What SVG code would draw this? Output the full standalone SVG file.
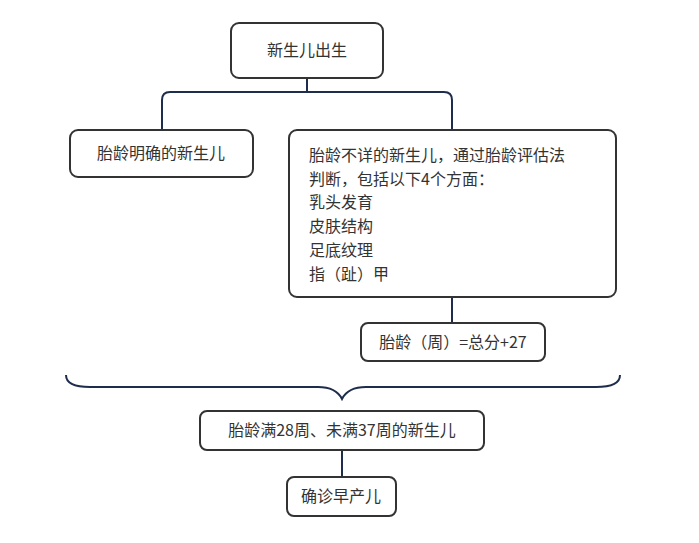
<svg xmlns="http://www.w3.org/2000/svg" width="699" height="543" viewBox="0 0 699 543">
<style>
.b{fill:#fff;stroke:#333;stroke-width:2}
.c{fill:none;stroke:#1f2d4d;stroke-width:2}
text{font-family:"Noto Sans CJK SC","Liberation Sans",sans-serif;font-size:16px;fill:#333}
.m{text-anchor:middle}
</style>
<rect width="699" height="543" fill="#fff"/>
<g id="connectors">
<path class="c" d="M307 78V92M162 130V100Q162 92 170 92H444Q452 92 452 100V130"/>
<path class="c" d="M452 297V323"/>
<path class="c" d="M342 450V477"/>
<path class="c" d="M66 375Q66 387 90 387H318Q336 387 342 399Q348 387 366 387H596Q620 387 620 375"/>
</g>
<g id="n1"><rect class="b" x="231" y="23" width="152" height="55" rx="8"/><text class="m" x="307" y="56">新生儿出生</text></g>
<g id="n2"><rect class="b" x="70" y="130" width="183" height="47" rx="8"/><text class="m" x="161" y="159">胎龄明确的新生儿</text></g>
<g id="n3"><rect class="b" x="289" y="130" width="327" height="167" rx="8"/>
<text x="309" y="161">胎龄不详的新生儿，通过胎龄评估法</text>
<text x="309" y="185">判断，包括以下4个方面：</text>
<text x="309" y="208">乳头发育</text>
<text x="309" y="232">皮肤结构</text>
<text x="309" y="256">足底纹理</text>
<text x="309" y="280">指（趾）甲</text></g>
<g id="n4"><rect class="b" x="361" y="323" width="184" height="38" rx="7"/><text class="m" x="453" y="348">胎龄（周）=总分+27</text></g>
<g id="n5"><rect class="b" x="200" y="411" width="284" height="39" rx="7"/><text class="m" x="342" y="436">胎龄满28周、未满37周的新生儿</text></g>
<g id="n6"><rect class="b" x="287" y="477" width="109" height="39" rx="7"/><text class="m" x="341" y="502">确诊早产儿</text></g>
</svg>
